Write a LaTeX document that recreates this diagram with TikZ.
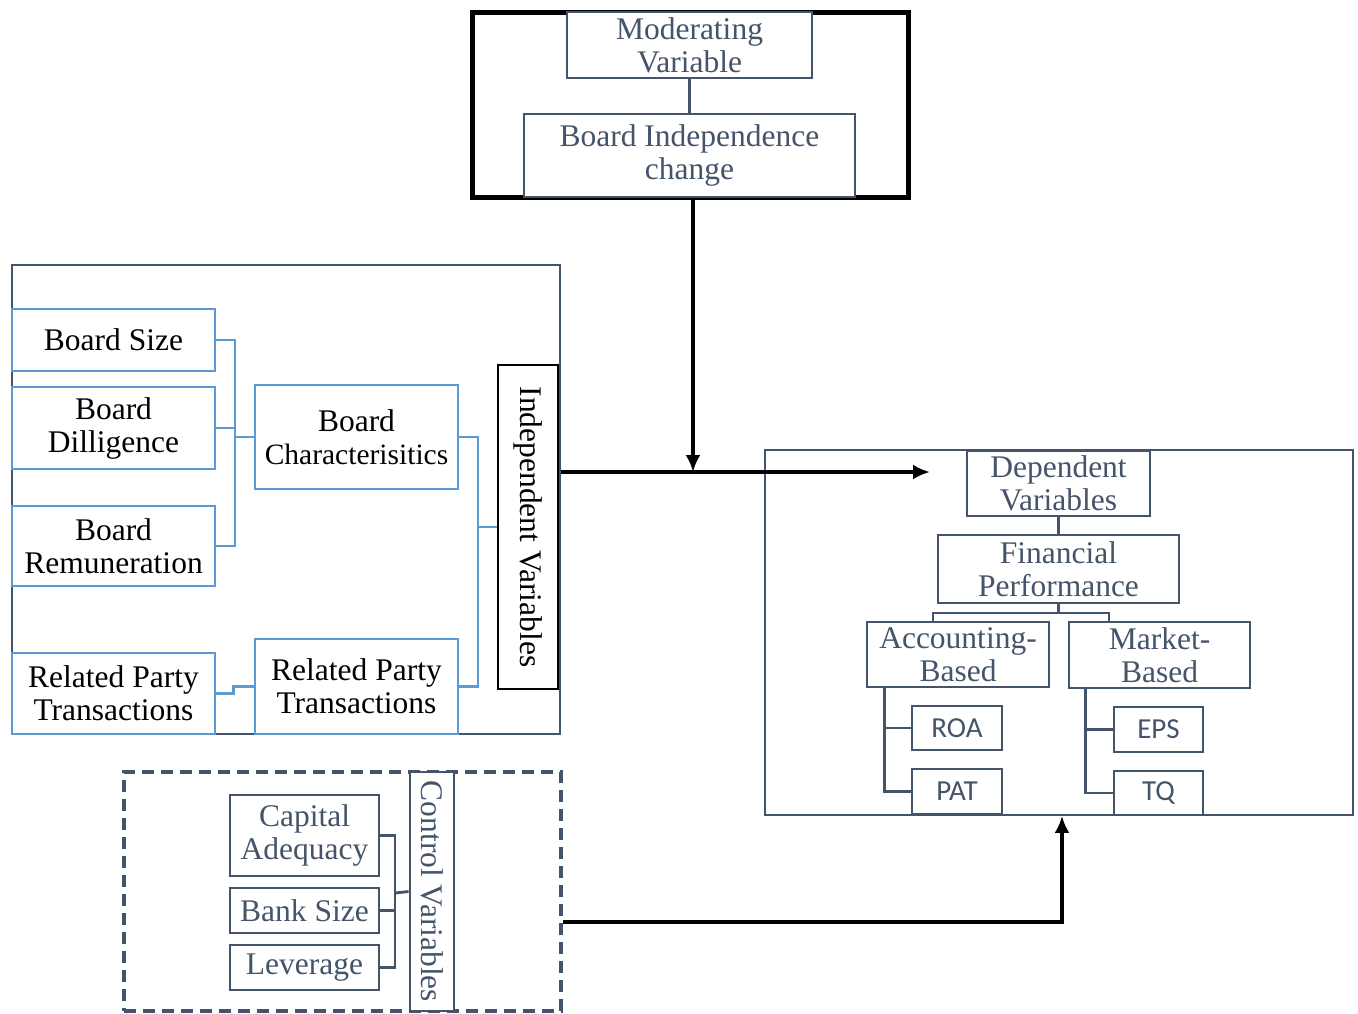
\documentclass[tikz,border=0pt]{standalone}
\usepackage{fontspec}
\setmainfont{Liberation Serif}
\newfontfamily\calfont{Carlito}
\usetikzlibrary{positioning,arrows.meta}
\definecolor{slate}{RGB}{68,84,106}
\definecolor{boxblue}{RGB}{91,155,213}

\begin{document}
\begin{tikzpicture}[x=1pt,y=-1pt]
 \tikzset{
  box/.style={draw=slate,fill=white,line width=2.8pt,text=slate,align=center,inner sep=0pt,font=\fontsize{31.5}{33}\selectfont},
  bluebox/.style={box,draw=boxblue,text=black},
  smallbox/.style={box,font=\calfont\fontsize{29}{33}\selectfont},
  frame/.style={draw=slate,line width=1.8pt,inner sep=0pt},
  link/.style={draw=slate,line width=2.8pt},
  bluelink/.style={draw=boxblue,line width=2.8pt},
  arrow/.style={line width=3.5pt,-{Latex[length=17pt,width=15pt]}}
 }
 \useasboundingbox (0,0) rectangle (1358,1013);

 % frames
 \node[frame,draw=black,line width=5pt,minimum width=436,minimum height=185] (modframe) at (690,104.5) {};
 \node[frame,minimum width=548,minimum height=469] (indframe) at (286,499.5) {};
 \node[frame,minimum width=588,minimum height=365] (depframe) at (1059,632.5) {};
 \node[frame,line width=4pt,dash pattern=on 12pt off 7pt,minimum width=437,minimum height=239] (ctrlframe) at (342.5,891.5) {};

 % moderating
 \node[box,minimum width=245,minimum height=66] (modv) at (689.5,45) {Moderating\\Variable};
 \node[box,minimum width=331,minimum height=83] (bic) at (689.5,155.5) {Board Independence\\change};

 % independent
 \node[bluebox,minimum width=203,minimum height=62] (bsize) at (113.5,340) {Board Size};
 \node[bluebox,minimum width=203,minimum height=82] (bdil) at (113.5,428) {Board\\Dilligence};
 \node[bluebox,minimum width=203,minimum height=80] (brem) at (113.5,546) {Board\\Remuneration};
 \node[bluebox,minimum width=203,minimum height=104] (bchar) at (356.5,437) {Board\\\fontsize{29.5}{33}\selectfont Characterisitics};
 \node[bluebox,minimum width=203,minimum height=81] (rptl) at (113.5,693.5) {Related Party\\Transactions};
 \node[bluebox,minimum width=203,minimum height=95] (rptr) at (356.5,686.5) {Related Party\\Transactions};
 \node[box,draw=black,text=black,rotate=-90,minimum width=324,minimum height=60] (indep) at (528,527) {Independent Variables};

 % dependent
 \node[box,minimum width=183,minimum height=65] (depv) at (1058.5,483.5) {Dependent\\Variables};
 \node[box,minimum width=241,minimum height=68] (finp) at (1058.5,569) {Financial\\Performance};
 \node[box,minimum width=182,minimum height=65] (accb) at (958,654.5) {Accounting-\\Based};
 \node[box,minimum width=181,minimum height=66] (mktb) at (1159.5,655) {Market-\\Based};
 \node[smallbox,minimum width=90,minimum height=44] (roa) at (957,728) {ROA};
 \node[smallbox,minimum width=90,minimum height=45] (pat) at (957,791.5) {PAT};
 \node[smallbox,minimum width=89,minimum height=45] (eps) at (1158.5,729.5) {EPS};
 \node[smallbox,minimum width=89,minimum height=44] (tq) at (1158.5,793) {TQ};

 % control
 \node[box,minimum width=149,minimum height=81] (capa) at (304.5,835.5) {Capital\\Adequacy};
 \node[box,minimum width=149,minimum height=45] (bsz) at (304.5,910.5) {Bank Size};
 \node[box,minimum width=149,minimum height=45] (lev) at (304.5,967.5) {Leverage};
 \node[box,rotate=-90,minimum width=239,minimum height=44] (ctrl) at (432,891.5) {Control Variables};

 \coordinate (busA) at (235,437);
 \coordinate (busB) at (478,527);
 \coordinate (busL) at (933,613);
 \coordinate (busR) at (1109,613);
 \coordinate (busD) at (395,893);
 \coordinate (tipin) at (930,472);
 \coordinate (tipdown) at (693,472);
 \coordinate (bend) at (1062,922);

 \draw[link] (modv.south) -- (bic.north);

 \draw[bluelink] (bsize.east) -| (busA);
 \draw[bluelink] (brem.east) -| (busA);
 \draw[bluelink] (bdil.east) -| (busA);
 \draw[bluelink] (busA) -- (bchar.west);
 \draw[bluelink] (bchar.east) -| (busB);
 \draw[bluelink] (rptr.east) -| (busB);
 \draw[bluelink] (busB) -- (indep.south);
 \draw[bluelink] (rptl.east) -- ++(17,0) |- (rptr.west);

 \draw[link] (depv.south) -- (finp.north);
 \draw[link] (finp.south) -- (finp.south |- busL);
 \draw[link] (busL |- accb.north) -- (busL) -- (busR) -- (busR |- mktb.north);
 \draw[link] ([xshift=19pt]accb.south west) |- (roa.west);
 \draw[link] ([xshift=19pt]accb.south west) |- (pat.west);
 \draw[link] ([xshift=18pt]mktb.south west) |- (eps.west);
 \draw[link] ([xshift=18pt]mktb.south west) |- (tq.west);

 \draw[link] (capa.east) -| (busD);
 \draw[link] (lev.east) -| (busD);
 \draw[link] (bsz.east) -- (bsz.east -| busD);
 \draw[link] (busD) -- (ctrl.south);

 \draw[arrow] (tipdown |- modframe.south) -- (tipdown);
 \draw[arrow] (indframe.east |- tipin) -- (tipin);
 \draw[arrow] (ctrlframe.east |- bend) -- (bend) -- (bend |- depframe.south);
\end{tikzpicture}
\end{document}
